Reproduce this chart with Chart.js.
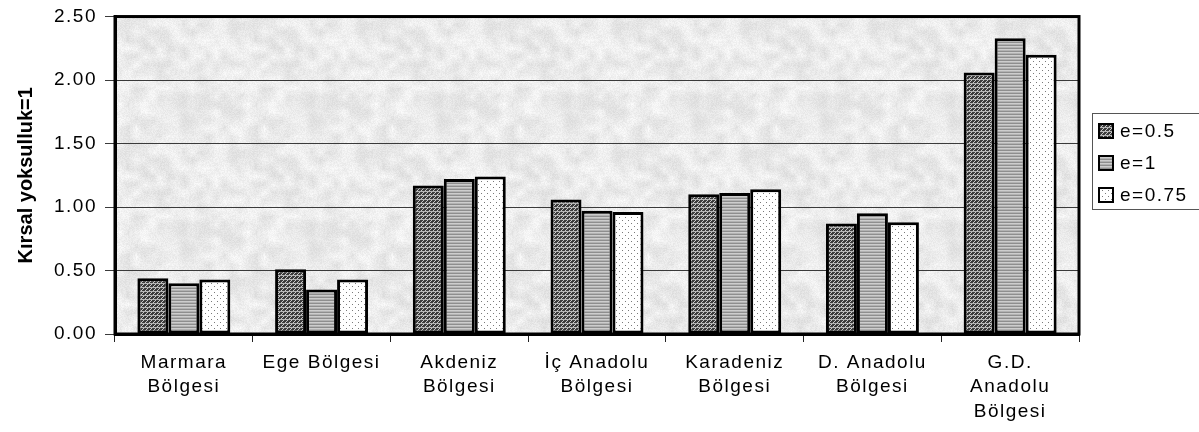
<!DOCTYPE html>
<html>
<head>
<meta charset="utf-8">
<script src="https://cdn.jsdelivr.net/npm/chart.js@4"></script>
<style>
  html, body { margin: 0; padding: 0; background: #fff; }
  #wrap { width: 1199px; height: 432px; }
</style>
</head>
<body>
<div id="wrap"><canvas id="c"></canvas></div>
<script>
// ─── Data ─────────────────────────────────────────────
const categories = [
  ['Marmara', 'Bölgesi'], ['Ege Bölgesi'], ['Akdeniz', 'Bölgesi'],
  ['İç Anadolu', 'Bölgesi'], ['Karadeniz', 'Bölgesi'],
  ['D. Anadolu', 'Bölgesi'], ['G.D.', 'Anadolu', 'Bölgesi']
];
const seriesNames = ['e=0.5', 'e=1', 'e=0.75'];
const e05  = [0.44, 0.51, 1.17, 1.06, 1.10, 0.87, 2.06];
const e1   = [0.40, 0.35, 1.22, 0.97, 1.11, 0.95, 2.33];
const e075 = [0.43, 0.43, 1.24, 0.96, 1.14, 0.88, 2.20];
const yTicks = [0, 0.5, 1, 1.5, 2, 2.5];
const yTitle = 'Kırsal yoksulluk=1';

const FONT = "'Liberation Sans', Arial, sans-serif";
const SPACING = '1.5px';

// ─── Fill patterns ────────────────────────────────────
const canvas = document.getElementById('c');
const mainCtx = canvas.getContext('2d');

function tile(w, h, draw) {
  const c = document.createElement('canvas');
  c.width = w; c.height = h;
  draw(c.getContext('2d'), w, h);
  return mainCtx.createPattern(c, 'repeat');
}

// dark diagonal hatch with light rows
const hatchDark = tile(4, 4, (g) => {
  g.fillStyle = '#3c3c3c'; g.fillRect(0, 0, 4, 4);
  g.fillStyle = '#c8c8c8';
  for (let i = 0; i < 4; i++) g.fillRect(i, 3 - i, 1, 1);
  g.fillStyle = '#b4b4b4'; g.fillRect(0, 3, 4, 1);
});
// gray horizontal stripes
const stripeGray = tile(4, 3, (g) => {
  g.fillStyle = '#8e8e8e'; g.fillRect(0, 0, 4, 1);
  g.fillStyle = '#cdcdcd'; g.fillRect(0, 1, 4, 1);
  g.fillStyle = '#b2b2b2'; g.fillRect(0, 2, 4, 1);
});
// white with dots
const dotsWhite = tile(6, 6, (g) => {
  g.fillStyle = '#ffffff'; g.fillRect(0, 0, 6, 6);
  g.fillStyle = '#7a7a7a';
  g.fillRect(1, 1, 1, 1); g.fillRect(4, 4, 1, 1);
});
// mottled plot background (smooth value noise, tiles seamlessly)
const backdrop = tile(128, 128, (g, w, h) => {
  const img = g.createImageData(w, h);
  const hash = (x, y) => {
    const s = Math.sin(x * 12.9898 + y * 78.233) * 43758.5453;
    return s - Math.floor(s);
  };
  const cell = 8, n = w / cell;
  const smooth = (x, y) => {
    const gx = x / cell, gy = y / cell;
    const x0 = Math.floor(gx), y0 = Math.floor(gy);
    const fx = gx - x0, fy = gy - y0;
    const v = (i, j) => hash((i % n + n) % n, (j % n + n) % n);
    const a = v(x0, y0) * (1 - fx) + v(x0 + 1, y0) * fx;
    const b = v(x0, y0 + 1) * (1 - fx) + v(x0 + 1, y0 + 1) * fx;
    return a * (1 - fy) + b * fy;
  };
  for (let y = 0; y < h; y++) {
    for (let x = 0; x < w; x++) {
      const v = Math.round(216 + smooth(x, y) * 24 + hash(x + 300, y) * 14);
      const i = (y * w + x) * 4;
      img.data[i] = img.data[i + 1] = img.data[i + 2] = v;
      img.data[i + 3] = 255;
    }
  }
  g.putImageData(img, 0, 0);
});
const fills = [hatchDark, stripeGray, dotsWhite];

// ─── Plugins ──────────────────────────────────────────
const spacingPlugin = {
  id: 'spacing',
  beforeUpdate(chart) { chart.ctx.letterSpacing = SPACING; },
  beforeDraw(chart) { chart.ctx.letterSpacing = SPACING; }
};

const plotBack = {
  id: 'plotBack',
  beforeDraw(chart) {
    const { ctx, chartArea: a } = chart;
    ctx.save();
    ctx.fillStyle = backdrop;
    ctx.fillRect(a.left, a.top, a.right - a.left, a.bottom - a.top);
    ctx.restore();
  }
};

const frameAndLegend = {
  id: 'frameAndLegend',
  afterDraw(chart) {
    const { ctx, chartArea: a } = chart;
    ctx.save();
    // plot frame
    ctx.strokeStyle = '#000';
    ctx.lineWidth = 3;
    ctx.strokeRect(a.left, a.top, a.right - a.left, a.bottom - a.top);

    // y title
    ctx.letterSpacing = '0px';
    ctx.fillStyle = '#000';
    ctx.font = `bold 20px ${FONT}`;
    ctx.textAlign = 'center';
    ctx.textBaseline = 'middle';
    ctx.save();
    ctx.translate(26, (a.top + a.bottom) / 2);
    ctx.rotate(-Math.PI / 2);
    ctx.fillText(yTitle, 0, 0);
    ctx.restore();

    // legend
    ctx.lineWidth = 1;
    ctx.strokeStyle = '#555';
    ctx.strokeRect(1092.5, 113.5, 120, 96);
    ctx.letterSpacing = SPACING;
    ctx.font = `19px ${FONT}`;
    ctx.textAlign = 'left';
    chart.data.datasets.forEach((ds, i) => {
      const y = 124 + 32 * i;
      ctx.fillStyle = ds.backgroundColor;
      ctx.fillRect(1099, y, 14, 14);
      ctx.lineWidth = 2;
      ctx.strokeStyle = '#000';
      ctx.strokeRect(1099, y, 14, 14);
      ctx.fillStyle = '#000';
      ctx.fillText(ds.label, 1120, y + 8);
    });
    ctx.restore();
  }
};

// ─── Chart ────────────────────────────────────────────
Chart.defaults.font.family = FONT;
Chart.defaults.color = '#000';

new Chart(canvas, {
  type: 'bar',
  data: {
    labels: categories,
    datasets: [e05, e1, e075].map((d, i) => ({
      label: seriesNames[i],
      data: d,
      backgroundColor: fills[i],
      borderColor: '#000',
      borderWidth: 3,
      borderSkipped: false,
      categoryPercentage: 0.675,
      barPercentage: 1
    }))
  },
  options: {
    responsive: true,
    maintainAspectRatio: false,
    animation: false,
    layout: { padding: { top: 15, right: 120, left: 0, bottom: 0 } },
    plugins: { legend: { display: false }, tooltip: { enabled: false } },
    scales: {
      x: {
        offset: true,
        afterFit: s => { s.height = 98; },
        border: { display: true, color: '#000', width: 3 },
        grid: { offset: true, drawOnChartArea: false, tickLength: 8, color: '#222', lineWidth: 1 },
        ticks: { font: { size: 19, lineHeight: 1.27 }, color: '#000', padding: 9, maxRotation: 0, autoSkip: false }
      },
      y: {
        min: yTicks[0],
        max: yTicks[yTicks.length - 1],
        afterFit: s => { s.width = 115; },
        afterBuildTicks: s => { s.ticks = yTicks.map(v => ({ value: v })); },
        border: { display: true, color: '#000', width: 3 },
        grid: { color: '#3a3a3a', lineWidth: 1, tickLength: 10 },
        ticks: { font: { size: 19, lineHeight: 0.9 }, color: '#000', padding: 8, callback: v => v.toFixed(2) }
      }
    }
  },
  plugins: [spacingPlugin, plotBack, frameAndLegend]
});
</script>
</body>
</html>
